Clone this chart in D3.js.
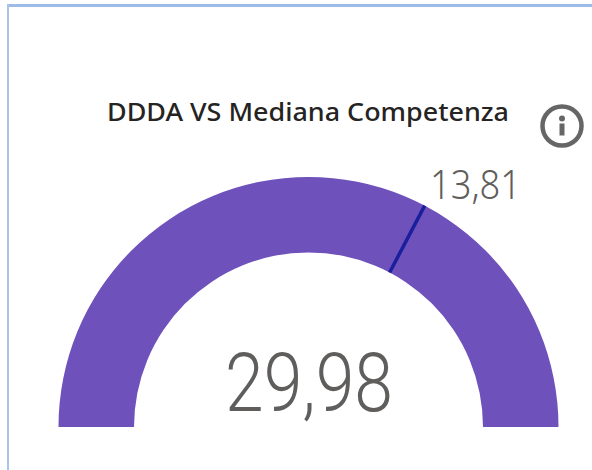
<!DOCTYPE html>
<html>
<head>
<meta charset="utf-8">
<script src="https://cdn.jsdelivr.net/npm/d3@7"></script>
<style>
  html, body { margin: 0; padding: 0; background: #fff; }
  svg { display: block; }
</style>
</head>
<body>
<div id="gauge-chart"></div>
<script>
// Gauge card: purple half ring, one target marker, value in the middle
const chartTitle = "DDDA VS Mediana Competenza";
const gaugeDomain = [0, 21.12];
const gaugeValue = [29.98];
const targetValue = [13.81];

const width = 592, height = 470;
const cx = 308.5, cy = 427;
const outerR = 250, innerR = 174.5;

const fmt = v => d3.format(".2f")(v).replace(".", ",");

const svg = d3.select("#gauge-chart")
  .append("svg")
    .attr("width", width)
    .attr("height", height)
    .style("background", "#fff");

// Card border, only top and left are visible in the crop
svg.append("rect")
  .attr("x", 7).attr("y", 4)
  .attr("width", width - 7).attr("height", 3)
  .attr("fill", "#9dbbe6");
svg.append("rect")
  .attr("x", 7).attr("y", 4)
  .attr("width", 2).attr("height", height - 4)
  .attr("fill", "#a9c3ea");

svg.append("text")
  .attr("x", 107)
  .attr("y", 121)
  .attr("textLength", 402)
  .attr("lengthAdjust", "spacingAndGlyphs")
  .style("font-family", "'Noto Sans', sans-serif")
  .style("font-size", "26px")
  .style("font-weight", 500)
  .style("fill", "#252423")
  .text(chartTitle);

// Info icon
const info = svg.append("g").attr("transform", "translate(562,126)");
info.append("circle")
  .attr("r", 19.5)
  .attr("fill", "none")
  .attr("stroke", "#666")
  .attr("stroke-width", 4.5);
info.append("circle")
  .attr("cy", -7.5).attr("r", 3)
  .attr("fill", "#666");
info.append("rect")
  .attr("x", -2.5).attr("y", -2.5)
  .attr("width", 5).attr("height", 12)
  .attr("fill", "#666");

// Angle scale, the value is above the max so the ring fills up
const angle = d3.scaleLinear()
  .domain(gaugeDomain)
  .range([-Math.PI / 2, Math.PI / 2])
  .clamp(true);

const g = svg.append("g").attr("transform", `translate(${cx},${cy})`);

const arc = d3.arc()
  .innerRadius(innerR)
  .outerRadius(outerR)
  .startAngle(angle(gaugeDomain[0]));

g.selectAll(".value-arc")
  .data(gaugeValue)
  .enter()
  .append("path")
    .attr("class", "value-arc")
    .attr("d", d => arc({ endAngle: angle(d) }))
    .attr("fill", "#6f51bb");

// Target marker
g.selectAll(".target")
  .data(targetValue)
  .enter()
  .append("line")
    .attr("class", "target")
    .attr("x1", d => innerR * Math.sin(angle(d)))
    .attr("y1", d => -innerR * Math.cos(angle(d)))
    .attr("x2", d => outerR * Math.sin(angle(d)))
    .attr("y2", d => -outerR * Math.cos(angle(d)))
    .attr("stroke", "#1a1f9e")
    .attr("stroke-width", 3.5);

svg.selectAll(".target-label")
  .data(targetValue)
  .enter()
  .append("text")
    .attr("class", "target-label")
    .attr("x", 430)
    .attr("y", 199)
    .attr("textLength", 91)
    .attr("lengthAdjust", "spacingAndGlyphs")
    .style("font-family", "'Noto Sans', sans-serif")
    .style("font-size", "40px")
    .style("font-weight", 300)
    .style("fill", "#605e5c")
    .text(fmt);

svg.selectAll(".value-label")
  .data(gaugeValue)
  .enter()
  .append("text")
    .attr("class", "value-label")
    .attr("x", 225)
    .attr("y", 411)
    .attr("textLength", 168)
    .attr("lengthAdjust", "spacingAndGlyphs")
    .style("font-family", "Roboto, sans-serif")
    .style("font-size", "82px")
    .style("font-weight", 300)
    .style("fill", "#605e5c")
    .text(fmt);
</script>
</body>
</html>
